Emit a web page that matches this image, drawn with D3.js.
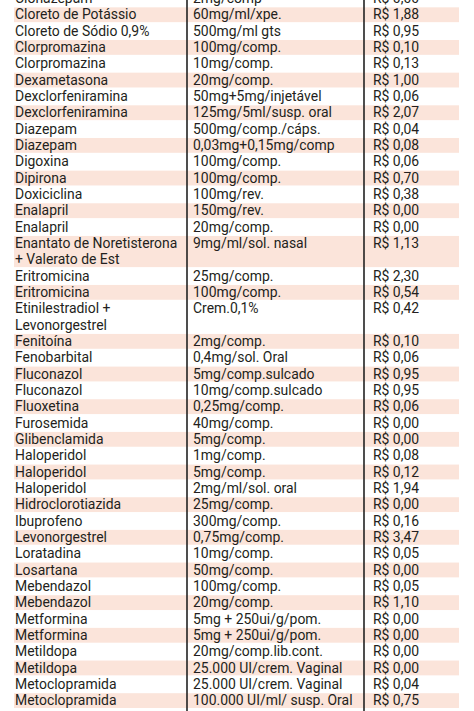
<!DOCTYPE html>
<html>
<head>
<meta charset="utf-8">
<script src="https://cdn.jsdelivr.net/npm/d3@7"></script>
<style>
  body { margin: 0; background: #fff; }
  text { font-family: Roboto, sans-serif; font-size: 15px; fill: #231f20; }
</style>
</head>
<body>
<div id="chart"></div>
<script>
// table rows: name, dose, price (name lines split with "|")
const names = ["Clonazepam", "Cloreto de Potássio", "Cloreto de Sódio 0,9%", "Clorpromazina", "Clorpromazina",
  "Dexametasona", "Dexclorfeniramina", "Dexclorfeniramina", "Diazepam", "Diazepam", "Digoxina", "Dipirona",
  "Doxiciclina", "Enalapril", "Enalapril", "Enantato de Noretisterona|+ Valerato de Est", "Eritromicina",
  "Eritromicina", "Etinilestradiol +|Levonorgestrel", "Fenitoína", "Fenobarbital", "Fluconazol", "Fluconazol",
  "Fluoxetina", "Furosemida", "Glibenclamida", "Haloperidol", "Haloperidol", "Haloperidol", "Hidroclorotiazida",
  "Ibuprofeno", "Levonorgestrel", "Loratadina", "Losartana", "Mebendazol", "Mebendazol", "Metformina",
  "Metformina", "Metildopa", "Metildopa", "Metoclopramida", "Metoclopramida"];
const doses = ["2mg/comp", "60mg/ml/xpe.", "500mg/ml gts", "100mg/comp.", "10mg/comp.", "20mg/comp.",
  "50mg+5mg/injetável", "125mg/5ml/susp. oral", "500mg/comp./cáps.", "0,03mg+0,15mg/comp", "100mg/comp.",
  "100mg/comp.", "100mg/rev.", "150mg/rev.", "20mg/comp.", "9mg/ml/sol. nasal", "25mg/comp.", "100mg/comp.",
  "Crem.0,1%", "2mg/comp.", "0,4mg/sol. Oral", "5mg/comp.sulcado", "10mg/comp.sulcado", "0,25mg/comp.",
  "40mg/comp.", "5mg/comp.", "1mg/comp.", "5mg/comp.", "2mg/ml/sol. oral", "25mg/comp.", "300mg/comp.",
  "0,75mg/comp.", "10mg/comp.", "50mg/comp.", "100mg/comp.", "20mg/comp.", "5mg + 250ui/g/pom.",
  "5mg + 250ui/g/pom.", "20mg/comp.lib.cont.", "25.000 UI/crem. Vaginal", "25.000 UI/crem. Vaginal",
  "100.000 UI/ml/ susp. Oral"];
const prices = ["R$ 0,00", "R$ 1,88", "R$ 0,95", "R$ 0,10", "R$ 0,13", "R$ 1,00", "R$ 0,06", "R$ 2,07",
  "R$ 0,04", "R$ 0,08", "R$ 0,06", "R$ 0,70", "R$ 0,38", "R$ 0,00", "R$ 0,00", "R$ 1,13", "R$ 2,30",
  "R$ 0,54", "R$ 0,42", "R$ 0,10", "R$ 0,06", "R$ 0,95", "R$ 0,95", "R$ 0,06", "R$ 0,00", "R$ 0,00",
  "R$ 0,08", "R$ 0,12", "R$ 1,94", "R$ 0,00", "R$ 0,16", "R$ 3,47", "R$ 0,05", "R$ 0,00", "R$ 0,05",
  "R$ 1,10", "R$ 0,00", "R$ 0,00", "R$ 0,00", "R$ 0,00", "R$ 0,04", "R$ 0,75"];

const width = 474, height = 711;
const svg = d3.select("#chart").append("svg").attr("width", width).attr("height", height);

// assign line indices
let line = 0;
const rows = names.map((n, i) => {
  const parts = n.split("|");
  const r = { i, parts, dose: doses[i], price: prices[i], start: line, n: parts.length };
  line += parts.length;
  return r;
});
const totalLines = line;

const pitch = 16.33;
const y = d3.scaleLinear().domain([0, totalLines]).range([-10, -10 + totalLines * pitch]);
const x = d3.scaleOrdinal().domain(["name", "dose", "price"]).range([15, 193, 373]);
const squeeze = 0.93;

// stripes
svg.selectAll("rect.stripe").data(rows.filter(r => r.i % 2 === 1)).join("rect")
  .attr("x", 14).attr("width", 445)
  .attr("y", r => y(r.start) + 1)
  .attr("height", r => r.n * pitch - 1.5)
  .attr("fill", "#fbe4da");

// dividers
[187, 364].forEach(d => svg.append("line")
  .attr("x1", d).attr("x2", d).attr("y1", 0).attr("y2", height)
  .attr("stroke", "#222").attr("stroke-width", 1.6));

const addText = (sel, col, yy, t) => sel.append("text")
  .attr("transform", `translate(${x(col)},${yy}) scale(${squeeze},1)`).text(t);

const g = svg.selectAll("g.row").data(rows).join("g");
g.each(function(r) {
  const sel = d3.select(this);
  r.parts.forEach((p, k) => addText(sel, "name", y(r.start + k) + 13, p));
  addText(sel, "dose", y(r.start) + 13, r.dose);
  addText(sel, "price", y(r.start) + 13, r.price);
});
</script>
</body>
</html>
